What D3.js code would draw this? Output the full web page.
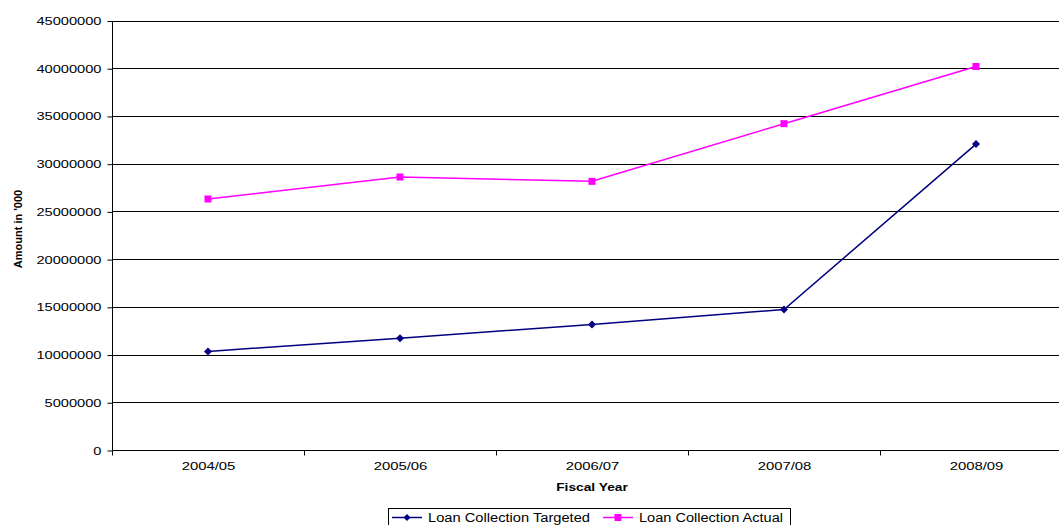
<!DOCTYPE html>
<html><head><meta charset="utf-8">
<script src="https://cdn.jsdelivr.net/npm/d3@7"></script>
<style>body{margin:0;background:#fff}svg{display:block;font-family:"Liberation Sans",Arial,sans-serif}</style>
</head><body>
<svg id="c" width="1059" height="525"></svg>
<script>
const categories = ["2004/05","2005/06","2006/07","2007/08","2008/09"];
const targeted = [10330000,11720000,13150000,14720000,32050000];
const actual = [26300000,28600000,28150000,34190000,40180000];
const yTicks = [0,5000000,10000000,15000000,20000000,25000000,30000000,35000000,40000000,45000000];
const seriesNames = ["Loan Collection Targeted","Loan Collection Actual"];

const svg = d3.select("#c");
const L=112, R=1072, T=20.5, B=450;
const x = d3.scaleBand().domain(categories).range([L,R]).padding(0);
const y = d3.scaleLinear().domain([0,45000000]).range([B,T]);

function stretch(sel,k){
  sel.each(function(){const w=this.getComputedTextLength();d3.select(this).attr("textLength",w*k).attr("lengthAdjust","spacingAndGlyphs");});
}

// gridlines
svg.append("g").selectAll("line").data(yTicks.slice(1)).join("line")
  .attr("x1",L).attr("x2",R).attr("y1",d=>Math.round(y(d))+0.5).attr("y2",d=>Math.round(y(d))+0.5)
  .attr("stroke","#000").attr("stroke-width",1);

// y axis
const ya = svg.append("g").attr("transform",`translate(${L+0.5},0.5)`)
  .call(d3.axisLeft(y).tickValues(yTicks).tickSize(5).tickPadding(6).tickFormat(d3.format("d")));
ya.selectAll("text").attr("font-size","11px").attr("fill","#000").attr("font-family","Liberation Sans, Arial");
ya.selectAll("line,path").attr("stroke","#000");
ya.select(".domain").attr("d",`M0,${T}V${B}`);
stretch(ya.selectAll("text"),1.33);

// x axis
const xa = svg.append("g").attr("transform",`translate(0.5,${B+0.5})`)
  .call(d3.axisBottom(x).tickSize(0).tickPadding(12));
xa.selectAll("text").attr("font-size","11px").attr("fill","#000").attr("font-family","Liberation Sans, Arial");
xa.select(".domain").attr("stroke","#000").attr("d",`M${L},0H${R}`);
xa.selectAll(".bt").data(categories).join("line").attr("class","bt")
  .attr("x1",d=>x(d)).attr("x2",d=>x(d)).attr("y1",0).attr("y2",5).attr("stroke","#000");
stretch(xa.selectAll("text"),1.35);

// titles
const xt = svg.append("text").attr("x",592).attr("y",491).attr("text-anchor","middle")
  .attr("font-size","11px").attr("font-weight","bold").text("Fiscal Year");
stretch(xt,1.25);
svg.append("text").attr("transform","translate(22,229) rotate(-90)").attr("text-anchor","middle")
  .attr("font-size","11px").attr("font-weight","bold").text("Amount in '000");

const cx = d=>x(d)+x.bandwidth()/2;
const line = d3.line().x((d,i)=>cx(categories[i])).y(d=>y(d));

function drawSeries(vals,color,shape){
  svg.append("path").datum(vals).attr("d",line).attr("fill","none").attr("stroke",color).attr("stroke-width",1.5);
  const g = svg.append("g");
  if(shape==="diamond"){
    g.selectAll("path").data(vals).join("path")
      .attr("d",(d,i)=>{const px=cx(categories[i]),py=y(d),s=4;return `M${px},${py-s}L${px+s},${py}L${px},${py+s}L${px-s},${py}Z`;})
      .attr("fill",color);
  } else {
    g.selectAll("rect").data(vals).join("rect")
      .attr("x",(d,i)=>cx(categories[i])-3.5).attr("y",d=>y(d)-3.5).attr("width",7).attr("height",7).attr("fill",color);
  }
}
drawSeries(targeted,"#000080","diamond");
drawSeries(actual,"#FF00FF","square");

// legend
const lg = svg.append("g");
lg.append("rect").attr("x",388.5).attr("y",508.5).attr("width",402).attr("height",18).attr("fill","#fff").attr("stroke","#000");
const items=[{n:seriesNames[0],c:"#000080",s:"diamond",x:392,w:162},{n:seriesNames[1],c:"#FF00FF",s:"square",x:603,w:144}];
items.forEach(it=>{
  lg.append("line").attr("x1",it.x).attr("x2",it.x+30).attr("y1",517.5).attr("y2",517.5).attr("stroke",it.c).attr("stroke-width",1.5);
  const mx=it.x+15,my=517.5;
  if(it.s==="diamond") lg.append("path").attr("d",`M${mx},${my-3.5}L${mx+3.5},${my}L${mx},${my+3.5}L${mx-3.5},${my}Z`).attr("fill",it.c);
  else lg.append("rect").attr("x",mx-3.5).attr("y",my-3.5).attr("width",7).attr("height",7).attr("fill",it.c);
  lg.append("text").attr("x",it.x+36).attr("y",522).attr("font-size","12.5px")
    .attr("textLength",it.w).attr("lengthAdjust","spacingAndGlyphs").text(it.n);
});
</script>
</body></html>
